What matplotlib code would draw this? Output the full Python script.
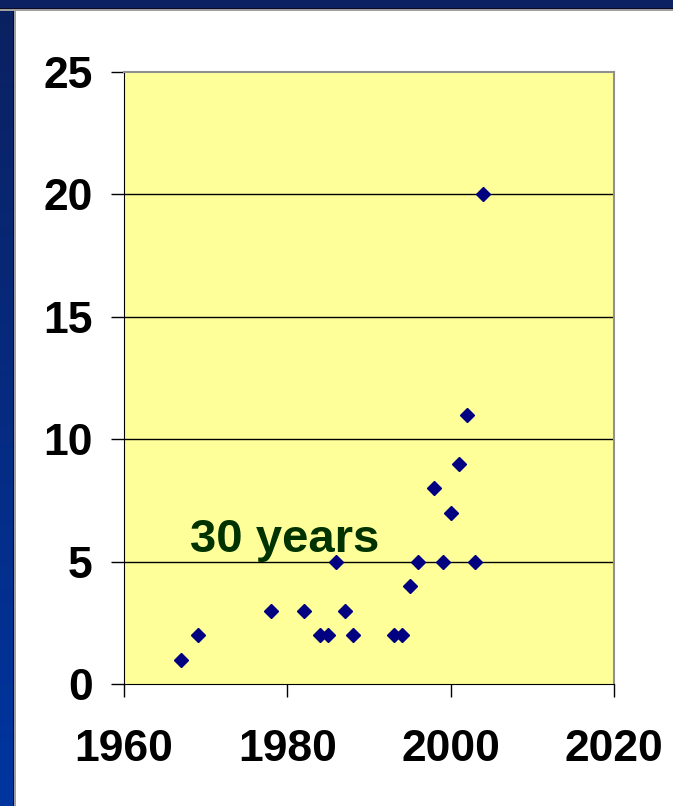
import numpy as np
import matplotlib
matplotlib.use('Agg')
import matplotlib.pyplot as plt
from matplotlib.patches import Rectangle

# data
years = [1967, 1969, 1978, 1982, 1984, 1985, 1986, 1987, 1988, 1993,
         1994, 1995, 1996, 1998, 1999, 2000, 2001, 2002, 2003, 2004]
counts = [1, 2, 3, 3, 2, 2, 5, 3, 2, 2,
          2, 4, 5, 8, 5, 7, 9, 11, 5, 20]
x_ticks = [1960, 1980, 2000, 2020]
y_ticks = [0, 5, 10, 15, 20, 25]
note = "30 years"

W, H = 673, 806
fig = plt.figure(figsize=(W / 100, H / 100), dpi=100, facecolor='white')

# slide frame: navy band on top, blue gradient on the left
fig.patches.append(Rectangle((0, 1 - 8 / H), 1, 8 / H, transform=fig.transFigure,
                             facecolor='#0b2161', edgecolor='none', zorder=0))
fig.patches.append(Rectangle((0, 1 - 9 / H), 1, 1 / H, transform=fig.transFigure,
                             facecolor='#0a0a20', edgecolor='none', zorder=0))
fig.patches.append(Rectangle((13 / W, 0), 1 / W, 1 - 9 / H, transform=fig.transFigure,
                             facecolor='#0a0a20', edgecolor='none', zorder=0))
fig.patches.append(Rectangle((14 / W, 0), 1.5 / W, 1 - 10 / H, transform=fig.transFigure,
                             facecolor='#a0a0a0', edgecolor='none', zorder=0))
fig.patches.append(Rectangle((0, 1 - 10.5 / H), 1, 1.5 / H, transform=fig.transFigure,
                             facecolor='#a0a0a0', edgecolor='none', zorder=0))
gax = fig.add_axes([0, 0, 13 / W, 1 - 8 / H])
grad = np.linspace(0, 1, 256).reshape(-1, 1)
cmap = matplotlib.colors.LinearSegmentedColormap.from_list('band', ['#0b2161', '#0035a0'])
gax.imshow(grad, aspect='auto', cmap=cmap, origin='upper')
gax.axis('off')

ax = fig.add_axes([124 / W, 1 - 684 / H, 490 / W, 612 / H])
ax.set_facecolor('#ffff99')

ax.plot(years, counts, linestyle='none', marker='D', markersize=7.4,
        color='#000080', markeredgecolor='#000080', zorder=3)

ax.set_xlim(1960, 2020)
ax.set_ylim(0, 25)
ax.set_xticks(x_ticks)
ax.set_yticks(y_ticks)
for v in y_ticks[1:-1]:
    ax.axhline(v, color='black', linewidth=1, zorder=1)

ax.tick_params(axis='both', direction='out', length=9.5, width=1, color='black',
               labelsize=32)
ax.tick_params(axis='y', pad=13)
ax.tick_params(axis='x', pad=23)
for lab in ax.get_xticklabels() + ax.get_yticklabels():
    lab.set_fontfamily('Liberation Sans')
    lab.set_fontweight('bold')

ax.spines['left'].set_color('black')
ax.spines['bottom'].set_color('black')
ax.spines['top'].set_color('#909090')
ax.spines['right'].set_color('#909090')
ax.spines['top'].set_linewidth(1.5)
ax.spines['right'].set_linewidth(1.5)

ax.text(1968.1, 5.39, note, fontsize=34, fontweight='bold', color='#003300',
        family='Liberation Sans', ha='left', va='baseline', zorder=4)

fig.savefig('out.png', dpi=100, facecolor='white')
